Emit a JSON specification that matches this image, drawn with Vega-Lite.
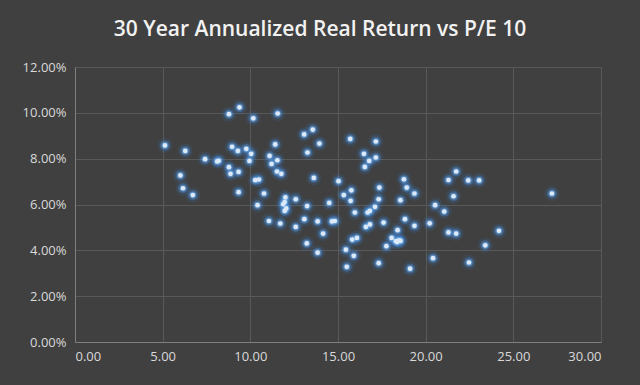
{
  "$schema": "https://vega.github.io/schema/vega-lite/v6.json",
  "width": 526,
  "height": 275,
  "autosize": "none",
  "padding": {"left": 75, "top": 67, "right": 39, "bottom": 43},
  "background": "#404040",
  "title": {
    "text": "30 Year Annualized Real Return vs P/E 10",
    "font": "Open Sans",
    "fontSize": 21,
    "fontWeight": 600,
    "color": "#f2f2f2",
    "anchor": "middle",
    "dx": -18,
    "offset": 21
  },
  "config": {
    "view": {"stroke": null},
    "axis": {
      "labelColor": "#d9d9d9",
      "labelFont": "Open Sans",
      "labelFontSize": 13,
      "domainColor": "#7f7f7f",
      "gridColor": "#595959",
      "ticks": false,
      "title": null
    }
  },
  "data": {
    "values": [
      {"pe": 5.13, "ret": 8.58}, {"pe": 6.29, "ret": 8.34}, {"pe": 6.01, "ret": 7.27}, {"pe": 6.16, "ret": 6.71},
      {"pe": 6.72, "ret": 6.41}, {"pe": 9.38, "ret": 10.24}, {"pe": 8.78, "ret": 9.94}, {"pe": 10.17, "ret": 9.76},
      {"pe": 11.56, "ret": 9.97}, {"pe": 13.56, "ret": 9.27}, {"pe": 13.07, "ret": 9.06}, {"pe": 13.94, "ret": 8.66},
      {"pe": 11.42, "ret": 8.62}, {"pe": 13.26, "ret": 8.27}, {"pe": 8.96, "ret": 8.52}, {"pe": 9.29, "ret": 8.34},
      {"pe": 9.77, "ret": 8.43}, {"pe": 10.05, "ret": 8.21}, {"pe": 9.95, "ret": 7.90}, {"pe": 11.10, "ret": 8.12},
      {"pe": 11.54, "ret": 7.93}, {"pe": 11.21, "ret": 7.77}, {"pe": 7.42, "ret": 7.98}, {"pe": 8.11, "ret": 7.88},
      {"pe": 8.20, "ret": 7.91}, {"pe": 8.78, "ret": 7.63}, {"pe": 9.33, "ret": 7.42}, {"pe": 8.87, "ret": 7.34},
      {"pe": 11.52, "ret": 7.44}, {"pe": 11.77, "ret": 7.34}, {"pe": 10.28, "ret": 7.06}, {"pe": 10.49, "ret": 7.09},
      {"pe": 13.62, "ret": 7.16}, {"pe": 9.33, "ret": 6.54}, {"pe": 10.78, "ret": 6.48}, {"pe": 10.41, "ret": 5.97},
      {"pe": 12.00, "ret": 6.31}, {"pe": 11.96, "ret": 6.11}, {"pe": 11.87, "ret": 6.01}, {"pe": 12.59, "ret": 6.23},
      {"pe": 13.24, "ret": 5.93}, {"pe": 15.70, "ret": 8.86}, {"pe": 17.16, "ret": 8.75}, {"pe": 16.48, "ret": 8.21},
      {"pe": 16.78, "ret": 7.90}, {"pe": 17.16, "ret": 8.05}, {"pe": 16.53, "ret": 7.64}, {"pe": 15.03, "ret": 7.02},
      {"pe": 18.76, "ret": 7.10}, {"pe": 18.92, "ret": 6.74}, {"pe": 19.36, "ret": 6.48}, {"pe": 15.76, "ret": 6.62},
      {"pe": 15.33, "ret": 6.41}, {"pe": 15.72, "ret": 6.16}, {"pe": 17.36, "ret": 6.74}, {"pe": 17.32, "ret": 6.23},
      {"pe": 18.56, "ret": 6.19}, {"pe": 14.50, "ret": 6.07}, {"pe": 17.11, "ret": 5.90}, {"pe": 20.54, "ret": 5.97},
      {"pe": 12.05, "ret": 5.83}, {"pe": 11.96, "ret": 5.72}, {"pe": 11.06, "ret": 5.28}, {"pe": 11.71, "ret": 5.17},
      {"pe": 12.59, "ret": 5.02}, {"pe": 13.08, "ret": 5.36}, {"pe": 13.84, "ret": 5.26}, {"pe": 13.22, "ret": 4.30},
      {"pe": 13.84, "ret": 3.90}, {"pe": 15.96, "ret": 5.65}, {"pe": 16.69, "ret": 5.65}, {"pe": 16.82, "ret": 5.72},
      {"pe": 18.82, "ret": 5.36}, {"pe": 19.36, "ret": 5.07}, {"pe": 20.23, "ret": 5.18}, {"pe": 14.65, "ret": 5.26},
      {"pe": 14.82, "ret": 5.28}, {"pe": 14.15, "ret": 4.73}, {"pe": 17.60, "ret": 5.21}, {"pe": 16.59, "ret": 5.02},
      {"pe": 16.82, "ret": 5.13}, {"pe": 18.40, "ret": 4.88}, {"pe": 18.06, "ret": 4.54}, {"pe": 18.38, "ret": 4.36},
      {"pe": 18.48, "ret": 4.44}, {"pe": 18.57, "ret": 4.41}, {"pe": 18.30, "ret": 4.40}, {"pe": 17.76, "ret": 4.18},
      {"pe": 15.81, "ret": 4.47}, {"pe": 16.08, "ret": 4.54}, {"pe": 15.45, "ret": 4.03}, {"pe": 15.90, "ret": 3.76},
      {"pe": 17.32, "ret": 3.44}, {"pe": 15.50, "ret": 3.28}, {"pe": 19.11, "ret": 3.20}, {"pe": 20.42, "ret": 3.66},
      {"pe": 21.74, "ret": 7.44}, {"pe": 21.30, "ret": 7.07}, {"pe": 22.43, "ret": 7.05}, {"pe": 23.05, "ret": 7.05},
      {"pe": 27.20, "ret": 6.48}, {"pe": 21.59, "ret": 6.36}, {"pe": 21.06, "ret": 5.69}, {"pe": 21.30, "ret": 4.78},
      {"pe": 21.74, "ret": 4.73}, {"pe": 24.18, "ret": 4.85}, {"pe": 23.40, "ret": 4.22}, {"pe": 22.47, "ret": 3.47}
    ]
  },
  "encoding": {
    "x": {
      "field": "pe",
      "type": "quantitative",
      "scale": {"domain": [0, 30], "nice": false, "zero": true},
      "axis": {"values": [0, 5, 10, 15, 20, 25, 30], "format": ".2f", "labelPadding": 8}
    },
    "y": {
      "field": "ret",
      "type": "quantitative",
      "scale": {"domain": [0, 12], "nice": false},
      "axis": {"values": [0, 2, 4, 6, 8, 10, 12], "labelExpr": "format(datum.value, '.2f') + '%'", "labelPadding": 9}
    }
  },
  "layer": [
    {"mark": {"type": "circle", "size": 220, "color": "#3b7fd0", "opacity": 0.16}},
    {"mark": {"type": "circle", "size": 100, "color": "#4d92dc", "opacity": 0.35}},
    {"mark": {"type": "circle", "size": 45, "color": "#6aa8e6", "opacity": 0.6}},
    {"mark": {"type": "circle", "size": 22, "color": "#dce9f8", "opacity": 1}}
  ]
}
